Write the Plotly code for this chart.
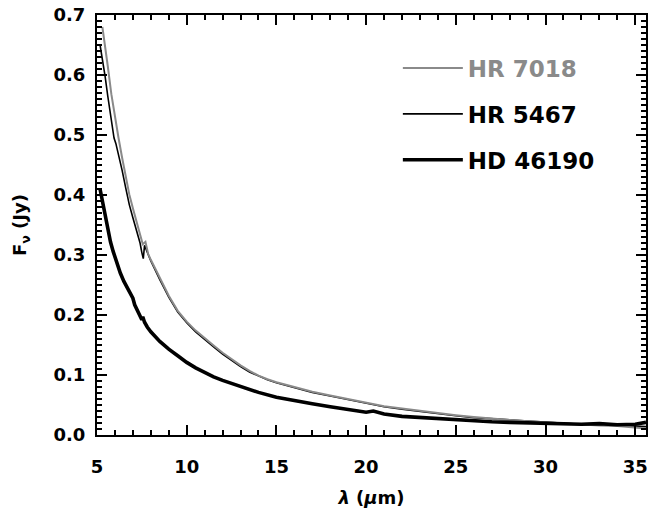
import plotly.graph_objects as go

# HR 7018 (grey)
wl_7018 = [5.30, 5.45, 5.60, 5.80, 6.00, 6.20, 6.40, 6.60, 6.80, 7.00, 7.20, 7.40, 7.55, 7.70, 7.85,
           8.00, 8.50, 9.00, 9.50, 10.0, 10.5, 11.0, 11.5, 12.0, 12.5, 13.0, 13.5, 14.0, 14.5, 15.0,
           16.0, 17.0, 18.0, 19.0, 20.0, 21.0, 22.0, 23.0, 24.0, 25.0, 26.0, 27.0, 28.0, 29.0, 30.0,
           31.0, 32.0, 33.0, 34.0, 35.0, 35.6]
f_7018 = [0.680, 0.650, 0.615, 0.568, 0.528, 0.495, 0.462, 0.430, 0.401, 0.378, 0.357, 0.337, 0.318, 0.322, 0.302,
          0.292, 0.262, 0.232, 0.207, 0.189, 0.174, 0.161, 0.149, 0.137, 0.126, 0.116, 0.107, 0.099, 0.093, 0.088,
          0.080, 0.072, 0.066, 0.060, 0.053, 0.048, 0.044, 0.040, 0.036, 0.033, 0.030, 0.027, 0.025, 0.023, 0.021,
          0.019, 0.018, 0.016, 0.015, 0.013, 0.011]

# HR 5467 (thin black)
wl_5467 = [5.17, 5.30, 5.45, 5.60, 5.80, 5.95, 6.05, 6.20, 6.40, 6.60, 6.80, 7.00, 7.20, 7.40, 7.50, 7.58, 7.65, 7.80,
           8.00, 8.50, 9.00, 9.50, 10.0, 10.5, 11.0, 11.5, 12.0, 12.5, 13.0, 13.5, 14.0, 14.5, 15.0,
           16.0, 17.0, 18.0, 19.0, 20.0, 21.0, 22.0, 23.0, 24.0, 25.0, 26.0, 27.0, 28.0, 29.0, 30.0,
           31.0, 32.0, 33.0, 34.0, 35.0, 35.6]
f_5467 = [0.650, 0.628, 0.598, 0.565, 0.522, 0.495, 0.486, 0.468, 0.441, 0.412, 0.384, 0.362, 0.342, 0.320, 0.304, 0.294, 0.316, 0.304,
          0.290, 0.259, 0.230, 0.205, 0.187, 0.172, 0.159, 0.147, 0.135, 0.124, 0.114, 0.105, 0.098, 0.092, 0.087,
          0.079, 0.071, 0.065, 0.059, 0.052, 0.047, 0.043, 0.039, 0.035, 0.032, 0.029, 0.027, 0.025, 0.023, 0.021,
          0.020, 0.018, 0.017, 0.016, 0.015, 0.014]

# HD 46190 (thick black)
wl_46190 = [5.17, 5.25, 5.35, 5.45, 5.60, 5.75, 5.90, 6.10, 6.30, 6.50, 6.70, 6.90, 7.00, 7.10, 7.25, 7.40, 7.50, 7.55,
            7.65, 7.80, 8.00, 8.50, 9.00, 9.50, 10.0, 10.5, 11.0, 11.5, 12.0, 13.0, 14.0, 15.0, 16.0, 17.0,
            18.0, 19.0, 20.0, 20.4, 21.0, 22.0, 23.0, 24.0, 25.0, 26.0, 27.0, 28.0, 29.0, 30.0, 31.0, 32.0,
            33.0, 34.0, 35.0, 35.6]
f_46190 = [0.410, 0.398, 0.382, 0.364, 0.340, 0.322, 0.306, 0.287, 0.270, 0.256, 0.244, 0.235, 0.228, 0.217, 0.207, 0.200, 0.192, 0.197,
           0.188, 0.180, 0.172, 0.156, 0.143, 0.132, 0.121, 0.112, 0.104, 0.097, 0.091, 0.081, 0.071, 0.063, 0.057, 0.052,
           0.047, 0.043, 0.038, 0.040, 0.035, 0.031, 0.029, 0.027, 0.025, 0.023, 0.022, 0.021, 0.020, 0.019, 0.018, 0.018,
           0.019, 0.017, 0.018, 0.021]

x_ticks = [5, 10, 15, 20, 25, 30, 35]
y_ticks = [0.0, 0.1, 0.2, 0.3, 0.4, 0.5, 0.6, 0.7]

GREY = "#8a8a8a"
FONT = "DejaVu Sans"

fig = go.Figure()
fig.add_trace(go.Scatter(x=wl_5467, y=f_5467, mode="lines", name="HR 5467",
                         line=dict(color="black", width=1.6), legendrank=2, legendgroup="b"))
fig.add_trace(go.Scatter(x=wl_7018, y=f_7018, mode="lines",
                         name="<span style='color:%s'>HR 7018</span>" % GREY,
                         line=dict(color=GREY, width=2), legendrank=1, legendgroup="a"))
fig.add_trace(go.Scatter(x=wl_46190, y=f_46190, mode="lines", name="HD 46190",
                         line=dict(color="black", width=3.6), legendrank=3, legendgroup="c"))

axis_common = dict(showline=True, linecolor="black", linewidth=2, mirror="allticks",
                   ticks="inside", tickcolor="black", tickwidth=2, ticklen=10,
                   showgrid=False, zeroline=False,
                   tickfont=dict(family=FONT, size=18, color="black", weight="bold"))

fig.update_xaxes(range=[5, 35.6], tickvals=x_ticks, ticktext=[str(v) for v in x_ticks],
                 minor=dict(dtick=1, ticks="inside", ticklen=5, tickwidth=2, tickcolor="black", showgrid=False),
                 ticklabelstandoff=14,
                 title=dict(text="<i>λ</i> (<i>μ</i>m)", standoff=16,
                            font=dict(family=FONT, size=18, color="black", weight="bold")),
                 **axis_common)
fig.update_yaxes(range=[0, 0.7], tickvals=y_ticks, ticktext=["%.1f" % v for v in y_ticks],
                 minor=dict(dtick=0.01, ticks="inside", ticklen=5, tickwidth=2, tickcolor="black", showgrid=False),
                 ticklabelstandoff=6,
                 title=dict(text="F<sub>ν</sub> (Jy)", standoff=22,
                            font=dict(family=FONT, size=18, color="black", weight="bold")),
                 **axis_common)

fig.update_layout(
    width=652, height=513,
    margin=dict(l=97, r=4, t=12, b=78),
    paper_bgcolor="white", plot_bgcolor="white",
    showlegend=True,
    legend=dict(x=0.548, y=0.925, xanchor="left", yanchor="top",
                bgcolor="rgba(0,0,0,0)", borderwidth=0,
                font=dict(family=FONT, size=23, color="black", weight="bold"),
                itemwidth=60, tracegroupgap=13, traceorder="grouped"),
)

fig.write_html("out.html")
